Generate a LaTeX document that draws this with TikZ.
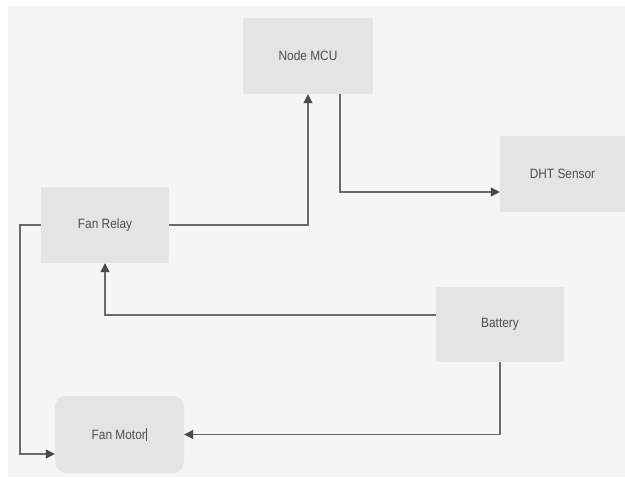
\documentclass[tikz,border=0pt]{standalone}
\usepackage{fontspec}
\setmainfont{Liberation Sans}[FakeStretch=0.88]
\usetikzlibrary{arrows.meta,calc}
\definecolor{bgc}{HTML}{F5F5F5}
\definecolor{boxc}{HTML}{E4E4E4}
\definecolor{linec}{HTML}{6A6A6A}
\definecolor{tipc}{HTML}{4A4A4A}
\definecolor{txtc}{HTML}{4E4E4E}
\tikzset{
  blockbox/.style={fill=boxc, draw=none, inner sep=0pt, text=txtc,
    font=\fontsize{13.5}{15}\selectfont},
  conn/.style={draw=linec, line width=1.1pt,
    -{Triangle[length=9pt,width=9pt,color=tipc]}},
}
\begin{document}
\begin{tikzpicture}[x=1pt,y=-1pt]
\useasboundingbox (0,0) rectangle (625,483);
\fill[white] (0,0) rectangle (625,483);
\fill[bgc] (8,6) rectangle (625,477);

\node[blockbox, minimum width=130pt, minimum height=76pt] (mcu) at (308,56) {Node MCU};
\node[blockbox, minimum width=125pt, minimum height=76pt] (dht) at (562.5,174) {DHT Sensor};
\node[blockbox, minimum width=128pt, minimum height=76pt] (relay) at (105,225) {Fan Relay};
\node[blockbox, minimum width=128pt, minimum height=75pt] (bat) at (500,324.5) {Battery};
\node[blockbox, minimum width=129pt, minimum height=77pt, rounded corners=11pt] (motor) at (119.5,434.5) {Fan Motor\kern0.5pt\rule[-2pt]{0.9pt}{13pt}};

\coordinate (mcuout) at ([xshift=32pt]mcu.south);
\coordinate (dhtin) at (dht.west |- 0,192);
\coordinate (batout) at (bat.west |- 0,315);
\coordinate (relayl) at (20,0);
\coordinate (motorl) at (motor.west |- 0,454);

\draw[conn] (relay.east) -| (mcu.south);
\draw[conn] (mcuout) |- (dhtin);
\draw[conn] (batout) -| (relay.south);
\draw[conn] (bat.south) |- (motor.east);
\draw[conn] (relay.west) -- (relayl |- relay.west) |- (motorl);
\end{tikzpicture}
\end{document}
